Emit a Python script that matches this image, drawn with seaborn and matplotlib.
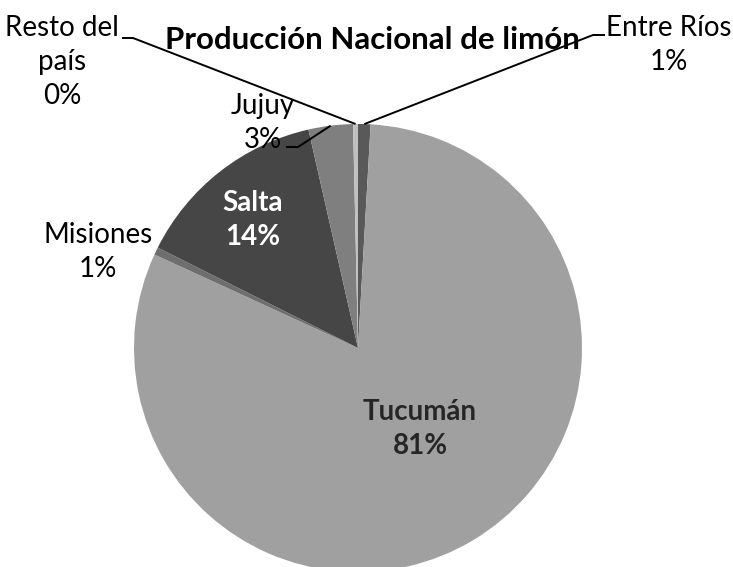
import numpy as np
import matplotlib
matplotlib.use('Agg')
import matplotlib.pyplot as plt
import seaborn as sns

# data
provinces = ['Entre Ríos', 'Tucumán', 'Misiones', 'Salta', 'Jujuy', 'Resto del\npaís']
shares = [0.9, 80.95, 0.55, 14.05, 3.2, 0.35]
pct_labels = ['1%', '81%', '1%', '14%', '3%', '0%']
colors = ['#595959', '#a0a0a0', '#6e6e6e', '#464646', '#7f7f7f', '#c0c0c0']

sns.set_theme(style='white')
plt.rcParams['font.family'] = ['Lato', 'DejaVu Sans']

W, H = 733, 567
fig = plt.figure(figsize=(W / 100, H / 100), dpi=100)
ax = fig.add_axes([0, 0, 1, 1])

cx, cy, r = 358, H - 348, 224
wedges, _ = ax.pie(shares, colors=colors, startangle=90, counterclock=False,
                   center=(cx, cy), radius=r, frame=True,
                   wedgeprops=dict(linewidth=0))
ax.set_xlim(0, W)
ax.set_ylim(0, H)
ax.set_aspect('equal')
ax.axis('off')

fs = 20


def edge(i, frac=0.5):
    w = wedges[i]
    a = np.deg2rad(w.theta1 + (w.theta2 - w.theta1) * frac)
    return cx + r * np.cos(a), cy + r * np.sin(a)


def label(i, x, y, bold=False, color='black'):
    ax.text(x, H - y, provinces[i] + '\n' + pct_labels[i], ha='center', va='center',
            fontsize=fs, fontweight='bold' if bold else 'normal', color=color,
            linespacing=1.36)


# inside labels
label(1, 420, 429, bold=True, color='#262626')
label(3, 253, 220, bold=True, color='white')
# outside labels
label(2, 98, 252)
label(4, 263, 123)
label(0, 669, 45)
label(5, 62, 62)

# leader lines
for i, pts in [(5, [(122, 38), (133, 38)]),
               (0, [(605, 35), (593, 35)]),
               (4, [(286, 147), (298, 147)])]:
    ex, ey = edge(i)
    xs = [p[0] for p in pts] + [ex]
    ys = [H - p[1] for p in pts] + [ey]
    ax.plot(xs, ys, color='black', lw=1.4, solid_capstyle='butt')

ax.text(372, H - 40, 'Producción Nacional de limón', ha='center', va='center',
        fontsize=22.5, fontweight='bold', color='black')

fig.savefig('out.png', dpi=100)
